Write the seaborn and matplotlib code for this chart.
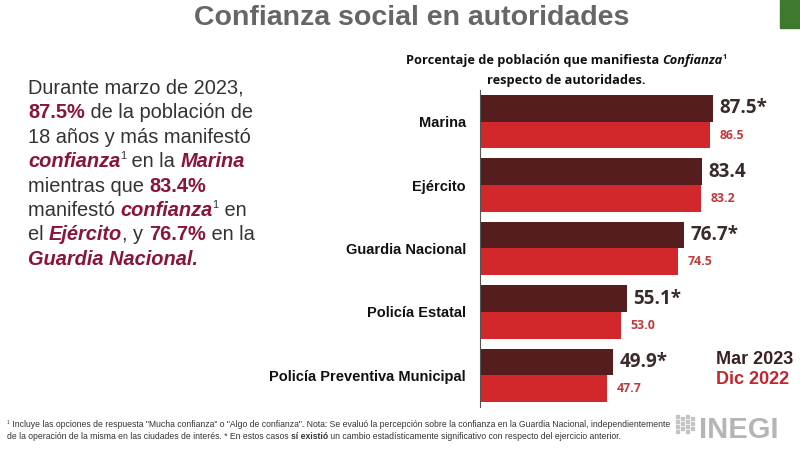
import pandas as pd
import matplotlib
matplotlib.use("Agg")
import matplotlib.pyplot as plt
import seaborn as sns

# datos de la gráfica
categorias = ["Marina", "Ejército", "Guardia Nacional", "Policía Estatal",
              "Policía Preventiva Municipal"]
mar_2023 = [87.5, 83.4, 76.7, 55.1, 49.9]
dic_2022 = [86.5, 83.2, 74.5, 53.0, 47.7]
significativo = [True, False, True, True, True]
periodos = ["Mar 2023", "Dic 2022"]

COL_OSC = "#561d1f"
COL_ROJO = "#d3282b"
GUINDA = "#8a1538"
GRIS = "#333333"

df = pd.DataFrame({
    "categoria": categorias * 2,
    "periodo": [periodos[0]] * 5 + [periodos[1]] * 5,
    "valor": mar_2023 + dic_2022,
})

sns.set_style("white")
plt.rcParams["font.family"] = ["Liberation Sans", "DejaVu Sans"]

fig = plt.figure(figsize=(8, 4.5), dpi=100)
ax = fig.add_axes([0.6, 0.0956, 0.3325, 0.7044])

sns.barplot(data=df, y="categoria", x="valor", hue="periodo", orient="h",
            palette=[COL_OSC, COL_ROJO], width=0.84, saturation=1,
            legend=False, linewidth=0, ax=ax)

ax.set_xlim(0, 100)
ax.set_ylim(4.5, -0.5)
ax.set_xlabel("")
ax.set_ylabel("")
ax.set_xticks([])
for s in ["top", "right", "bottom"]:
    ax.spines[s].set_visible(False)
ax.spines["left"].set_color("#555555")
ax.spines["left"].set_linewidth(0.8)
ax.tick_params(axis="y", length=0, pad=10)
ax.set_yticks([i - 0.5 for i in range(6)], minor=True)
ax.tick_params(axis="y", which="minor", length=3, width=0.8, color="#555555")
for lbl in ax.get_yticklabels():
    lbl.set_fontweight("bold")
    lbl.set_fontsize(10.5)
    lbl.set_color("#111111")

# etiquetas de valores
etq_mar = [f"{v:.1f}*" if s else f"{v:.1f}" for v, s in zip(mar_2023, significativo)]
etq_dic = [f"{v:.1f}" for v in dic_2022]
ax.bar_label(ax.containers[0], labels=etq_mar, padding=5, fontsize=13.5,
             fontweight="bold", color="#3a2a2a", family=["Open Sans", "DejaVu Sans"])
ax.bar_label(ax.containers[1], labels=etq_dic, padding=7, fontsize=8.8,
             fontweight="bold", color="#c0393b", family=["Open Sans", "DejaVu Sans"])

# título
fig.text(0.515, 1 - 18 / 450, "Confianza social en autoridades", ha="center",
         va="center", fontsize=20.5, fontweight="bold", color="#666666")
fig.patches.append(plt.Rectangle((780 / 800, 1 - 28 / 450), 20 / 800, 28 / 450,
                                 transform=fig.transFigure, color="#3e7a2e"))

renderer = fig.canvas.get_renderer()


def linea(piezas, x, y, size, base=None):
    # dibuja una línea de texto con trozos de distinto estilo
    base = base or {}
    for txt, props in piezas:
        p = dict(base)
        p.update(props)
        sup = p.pop("sup", False)
        fs = size * 0.55 if sup else size
        yy = y + (size * 0.4 / 72 * 100 / 450 if sup else 0)
        t = fig.text(x / 800, yy, txt, fontsize=fs, va="baseline", ha="left", **p)
        x += t.get_window_extent(renderer).width


N = {"color": GRIS}
B = {"color": GUINDA, "fontweight": "bold"}
BI = {"color": GUINDA, "fontweight": "bold", "style": "italic"}
S = {"color": GRIS, "sup": True}

texto = [
    [("Durante marzo de 2023,", N)],
    [("87.5%", B), (" de la población de", N)],
    [("18 años y más manifestó", N)],
    [("confianza", BI), ("1", S), (" en la ", N), ("Marina", BI)],
    [("mientras que ", N), ("83.4%", B)],
    [("manifestó ", N), ("confianza", BI), ("1", S), (" en", N)],
    [("el ", N), ("Ejército", BI), (", y ", N), ("76.7%", B), (" en la", N)],
    [("Guardia Nacional.", BI)],
]
for i, piezas in enumerate(texto):
    linea(piezas, 28, 1 - (94 + 24.4 * i) / 450, 14.4)

# subtítulo de la gráfica
sub = {"fontweight": "bold", "color": "#111111",
       "family": ["Open Sans", "DejaVu Sans"]}
linea([("Porcentaje de población que manifiesta ", {}),
       ("Confianza", {"style": "italic"}), ("1", {"sup": True})],
      406, 1 - 64 / 450, 9.2, sub)
fig.text(566 / 800, 1 - 84 / 450, "respecto de autoridades.", ha="center",
         va="baseline", fontsize=9.2, **sub)

# leyenda
fig.text(716 / 800, 1 - 364 / 450, "Mar 2023", fontsize=13, fontweight="bold",
         color="#3a2020", va="baseline")
fig.text(716 / 800, 1 - 384 / 450, "Dic 2022", fontsize=13, fontweight="bold",
         color="#c8232b", va="baseline")

# nota al pie
nota = {"color": "#333333", "family": ["Liberation Sans Narrow", "Liberation Sans"]}
linea([("1", {"sup": True}),
       (" Incluye las opciones de respuesta \"Mucha confianza\" o \"Algo de confianza\". "
        "Nota: Se evaluó la percepción sobre la confianza en la Guardia Nacional, "
        "independientemente", {})], 7, 1 - 427 / 450, 6.2, nota)
linea([("de la operación de la misma en las ciudades de interés. * En estos casos ", {}),
       ("sí existió", {"fontweight": "bold"}),
       (" un cambio estadísticamente significativo con respecto del ejercicio anterior.", {})],
      7, 1 - 439 / 450, 6.2, nota)

# logotipo INEGI (aproximado)
for c in range(4):
    for f in range(4 - (c % 2)):
        fig.patches.append(plt.Rectangle(((676 + 5 * c) / 800, 1 - (418 + 5 * f + 2 * (c % 2)) / 450),
                                         3 / 800, 3 / 450, transform=fig.transFigure,
                                         color="#c4c4c4"))
fig.text(699 / 800, 1 - 438 / 450, "INEGI", fontsize=21, fontweight="bold",
         color="#b5b5b5", va="baseline")

fig.savefig("out.png", dpi=100)
